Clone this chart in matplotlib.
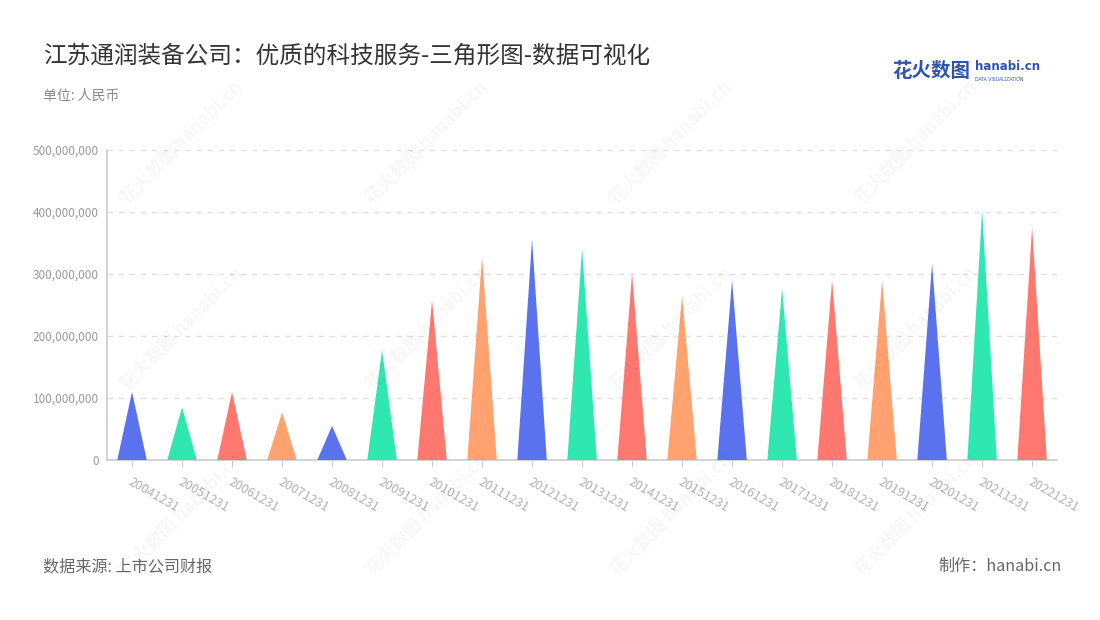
import numpy as np
import matplotlib.pyplot as plt
from matplotlib.ticker import FuncFormatter

plt.rcParams['font.family'] = ['Noto Sans CJK SC', 'DejaVu Sans']

dates = ['20041231', '20051231', '20061231', '20071231', '20081231', '20091231',
         '20101231', '20111231', '20121231', '20131231', '20141231', '20151231',
         '20161231', '20171231', '20181231', '20191231', '20201231', '20211231',
         '20221231']
values = [110, 85, 110, 77, 55, 177, 258, 328, 356, 341, 301, 265,
          290, 277, 290, 290, 317, 403, 376]  # 百万
values = [v * 1e6 for v in values]
palette = ['#5B72EE', '#2EE8B0', '#FF7870', '#FFA26F']
color_seq = [0, 1, 2, 3, 0, 1, 2, 3, 0, 1, 2, 3, 0, 1, 2, 3, 0, 1, 2]

fig = plt.figure(figsize=(11, 6.2), dpi=100)
ax = fig.add_axes([0.0973, 0.258, 0.8637, 0.5])

# watermark
for wx in [0.165, 0.388, 0.61, 0.833]:
    for wy in [0.77, 0.47, 0.17]:
        fig.text(wx, wy, '花火数图 hanabi.cn', rotation=45, fontsize=13,
                 color='#000000', alpha=0.035, ha='center', va='center',
                 fontweight='bold', zorder=0)

half = 0.295
for i, v in enumerate(values):
    ax.fill([i - half, i, i + half], [0, v, 0], color=palette[color_seq[i]],
            lw=0, zorder=3)

ax.set_xlim(-0.5, len(values) - 0.5)
ax.set_ylim(0, 5e8)
ax.set_yticks(np.arange(0, 5.01e8, 1e8))
ax.yaxis.set_major_formatter(FuncFormatter(lambda v, p: f'{int(v):,}'))
ax.grid(axis='y', color='#e0e0e0', linestyle=(0, (4, 4)), lw=1)
ax.set_axisbelow(True)

ax.set_xticks(range(len(dates)))
ax.set_xticklabels(dates, rotation=-30, ha='left', va='top',
                   rotation_mode='anchor', fontsize=9, color='#b0b0b8')
ax.tick_params(axis='x', length=5, color='#cccccc', pad=6)
ax.tick_params(axis='y', length=0, labelsize=8.5, labelcolor='#999999', pad=6)

for s in ['top', 'right']:
    ax.spines[s].set_visible(False)
ax.spines['left'].set_color('#cccccc')
ax.spines['bottom'].set_color('#cccccc')
ax.spines['left'].set_linewidth(1.2)
ax.spines['bottom'].set_linewidth(1.2)

fig.text(0.039, 0.91, '江苏通润装备公司：优质的科技服务-三角形图-数据可视化',
         fontsize=17, color='#333333', va='center')
fig.text(0.039, 0.845, '单位: 人民币', fontsize=10, color='#888888', va='center')
fig.text(0.039, 0.086, '数据来源: 上市公司财报', fontsize=11.6, color='#666666', va='center')
fig.text(0.965, 0.086, '制作：hanabi.cn', fontsize=11.6, color='#666666',
         va='center', ha='right')

# logo
fig.text(0.811, 0.885, '花火数图', fontsize=14, color='#2F54B0',
         fontweight='bold', va='center')
fig.text(0.886, 0.892, 'hanabi.cn', fontsize=8.5, color='#2F54B0',
         fontweight='bold', va='center', family='DejaVu Sans')
fig.text(0.886, 0.872, 'DATA VISUALIZATION', fontsize=3.3, color='#2F54B0',
         va='center', family='DejaVu Sans')

fig.savefig('out.png', dpi=100, facecolor='white')
